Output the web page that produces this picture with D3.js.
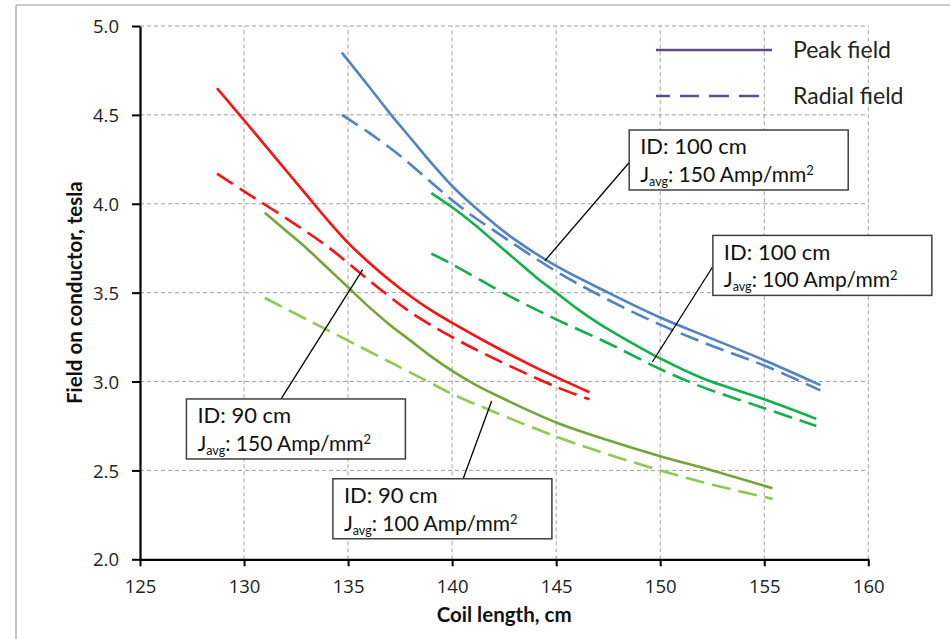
<!DOCTYPE html>
<html>
<head>
<meta charset="utf-8">
<script src="https://cdn.jsdelivr.net/npm/d3@7"></script>
<style>
	body { margin:0; background:#fff; }
	svg { display:block; }
	.axis-title { font-family:Lato, sans-serif; font-weight:bold; font-size:20.5px; fill:#111; }
	.note { font-family:Lato, sans-serif; font-size:22px; fill:#111; }
	.legend-text { font-family:Lato, sans-serif; font-size:23px; fill:#222; }
</style>
</head>
<body>
<div id="viz-container"></div>
<script>
// ---- data ----
var xTicks = [125,130,135,140,145,150,155,160];
var yTicks = [2.0,2.5,3.0,3.5,4.0,4.5,5.0];

// ID 100 cm, J 150
var peak100_150 = [[134.7,4.85],[136,4.66],[137,4.51],[138,4.37],[139,4.23],[140,4.10],[141,3.99],[142,3.89],[143,3.80],[145,3.65],[147.5,3.50],[150,3.36],[152.5,3.24],[155,3.12],[157.7,2.98]];
var radial100_150 = [[134.7,4.50],[136,4.40],[137.5,4.27],[139,4.12],[140,4.02],[141,3.93],[142,3.85],[145,3.62],[147.5,3.46],[150,3.32],[152.5,3.20],[155,3.09],[157.7,2.95]];
// ID 90 cm, J 150
var peak90_150 = [[128.7,4.65],[130,4.47],[131,4.33],[132,4.19],[133,4.05],[134,3.91],[135,3.78],[136,3.67],[137,3.57],[138,3.48],[139,3.40],[140,3.33],[142,3.20],[144,3.08],[146.6,2.94]];
var radial90_150 = [[128.7,4.17],[130,4.07],[132,3.92],[134,3.76],[136,3.57],[138,3.39],[140,3.25],[142,3.13],[145,2.97],[146.6,2.90]];
// ID 100 cm, J 100
var peak100_100 = [[139,4.06],[140,3.98],[141,3.89],[142,3.79],[143,3.69],[144,3.59],[145,3.50],[146,3.41],[147,3.33],[148,3.26],[150,3.13],[152,3.02],[155,2.90],[157.5,2.79]];
var radial100_100 = [[139,3.72],[140,3.66],[142.6,3.49],[145,3.35],[147.6,3.21],[150,3.07],[152,2.97],[155,2.85],[157.5,2.75]];
// ID 90 cm, J 100
var peak90_100 = [[131,3.95],[132,3.85],[133,3.75],[134,3.64],[135,3.53],[136,3.42],[137,3.32],[138,3.23],[139,3.14],[140,3.06],[141,2.99],[142,2.93],[145,2.77],[147.5,2.67],[150,2.58],[152.5,2.50],[155.4,2.40]];
var radial90_100 = [[131,3.47],[133,3.35],[135,3.23],[137,3.11],[139,2.99],[140,2.93],[142,2.83],[145,2.69],[147.5,2.59],[150,2.50],[152.5,2.42],[155.4,2.34]];

var seriesList = [
	{values:peak100_150, color:"#5082c4", dashed:false},
	{values:radial100_150, color:"#5082c4", dashed:true},
	{values:peak90_150, color:"#ff1010", dashed:false},
	{values:radial90_150, color:"#ff1010", dashed:true},
	{values:peak100_100, color:"#12b04c", dashed:false},
	{values:radial100_100, color:"#12b04c", dashed:true},
	{values:peak90_100, color:"#77a33a", dashed:false},
	{values:radial90_100, color:"#92c84f", dashed:true}
];

var legendLabels = ["Peak field", "Radial field"];

// annotation text: ID and current density
var noteIds = ["ID: 100 cm", "ID: 100 cm", "ID: 90 cm", "ID: 90 cm"];
var noteJ = ["150", "100", "150", "100"];
// box top-left corner and the point the leader line reaches, in data units
var noteBox = [[148.51,4.415],[152.53,3.822],[127.23,2.902],[134.27,2.453]];
var noteTip = [[144.46,3.68],[149.62,3.11],[135.70,3.63],[141.90,2.89]];
// where the leader leaves the box (data units)
var noteFrom = [[148.51,4.232],[152.53,3.647],[131.78,2.902],[140.53,2.453]];

// ---- layout ----
var W = 950, H = 639;
var svg = d3.select('#viz-container')
	.append('svg')
	.attr('width', W)
	.attr('height', H);

var xScale = d3.scaleLinear().domain([125,160]).range([140, 868.3]);
var yScale = d3.scaleLinear().domain([2,5]).range([559.3, 26]);

// outer frame (only left & top visible)
svg.append('line').attr('x1',16).attr('x2',16).attr('y1',5).attr('y2',H)
	.attr('stroke','#9a9a9a').attr('stroke-width',1.2);
svg.append('line').attr('x1',16).attr('x2',W).attr('y1',5).attr('y2',5)
	.attr('stroke','#9a9a9a').attr('stroke-width',1.2);

// grid
var grid = svg.append('g').attr('class','grid');
grid.selectAll('.gx').data(xTicks.slice(1)).enter().append('line')
	.attr('x1', function(d){ return xScale(d); })
	.attr('x2', function(d){ return xScale(d); })
	.attr('y1', yScale(2)).attr('y2', yScale(5))
	.attr('stroke','#a0a0a0').attr('stroke-width',1).attr('stroke-dasharray','4,3');
grid.selectAll('.gy').data(yTicks.slice(1)).enter().append('line')
	.attr('y1', function(d){ return yScale(d); })
	.attr('y2', function(d){ return yScale(d); })
	.attr('x1', xScale(125)).attr('x2', xScale(160))
	.attr('stroke','#a0a0a0').attr('stroke-width',1).attr('stroke-dasharray','4,3');

// axes
var xAxis = d3.axisBottom(xScale).tickValues(xTicks).tickSize(7).tickSizeOuter(0).tickFormat(d3.format('d'));
var yAxis = d3.axisLeft(yScale).tickValues(yTicks).tickSize(8).tickSizeOuter(0).tickFormat(d3.format('.1f'));

var gx = svg.append('g').attr('transform','translate(0,' + yScale(2) + ')').call(xAxis);
var gy = svg.append('g').attr('transform','translate(' + xScale(125) + ',0)').call(yAxis);
[gx, gy].forEach(function(g){
	g.attr('font-size', null).attr('font-family', null);
	g.select('.domain').attr('stroke','#000').attr('stroke-width',2.2);
	g.selectAll('.tick line').attr('stroke','#000').attr('stroke-width',2);
	g.selectAll('.tick text')
		.style('font-family','"Open Sans", sans-serif')
		.style('font-size','18.5px')
		.attr('fill','#222');
});
gx.selectAll('.tick text').attr('dy',null).attr('y',34);
gy.selectAll('.tick text').attr('x',-21).attr('dy','0.36em');

// axis titles
svg.append('text').attr('class','axis-title')
	.attr('x', (xScale(125)+xScale(160))/2).attr('y', 622)
	.attr('text-anchor','middle').text('Coil length, cm');
svg.append('text').attr('class','axis-title')
	.attr('transform','translate(82,' + (yScale(2)+yScale(5))/2 + ') rotate(-90)')
	.attr('text-anchor','middle').text('Field on conductor, tesla');

// curves
var line = d3.line()
	.x(function(d){ return xScale(d[0]); })
	.y(function(d){ return yScale(d[1]); })
	.curve(d3.curveCatmullRom.alpha(0.5));

svg.append('g').selectAll('path').data(seriesList).enter().append('path')
	.attr('d', function(d){ return line(d.values); })
	.attr('fill','none')
	.attr('stroke', function(d){ return d.color; })
	.attr('stroke-width', 2.6)
	.attr('stroke-dasharray', function(d){ return d.dashed ? '19,8' : null; });

// legend
var legend = svg.append('g');
legendLabels.forEach(function(lbl, i){
	var ly = 50 + i*46;
	legend.append('line')
		.attr('x1',656).attr('x2', i ? 766 : 772).attr('y1',ly).attr('y2',ly)
		.attr('stroke','#5f4b8b').attr('stroke-width',2.4)
		.attr('stroke-dasharray', i ? '14,10,19,10,20,10,20' : null);
	legend.append('text').attr('class','legend-text')
		.attr('x',793).attr('y', ly + 8).text(lbl);
});

// annotations
var notes = svg.append('g');
noteIds.forEach(function(id, i){
	var bx = xScale(noteBox[i][0]), by = yScale(noteBox[i][1]);
	notes.append('line')
		.attr('x1', xScale(noteFrom[i][0])).attr('y1', yScale(noteFrom[i][1]))
		.attr('x2', xScale(noteTip[i][0])).attr('y2', yScale(noteTip[i][1]))
		.attr('stroke','#000').attr('stroke-width',1.3);
	notes.append('rect')
		.attr('x', bx).attr('y', by).attr('width', 219).attr('height', 60)
		.attr('fill','#fff').attr('stroke','#404040').attr('stroke-width',1.5);
	notes.append('text').attr('class','note')
		.attr('x', bx + 11).attr('y', by + 24.5).text(id);
	var t = notes.append('text').attr('class','note')
		.attr('x', bx + 11).attr('y', by + 52).style('font-size','21px');
	t.append('tspan').text('J');
	t.append('tspan').attr('font-size','12.5px').attr('dy',4).text('avg');
	t.append('tspan').attr('dy',-4).text(': ' + noteJ[i] + ' Amp/mm');
	t.append('tspan').attr('font-size','13px').attr('dy',-7).text('2');
});
</script>
</body>
</html>
